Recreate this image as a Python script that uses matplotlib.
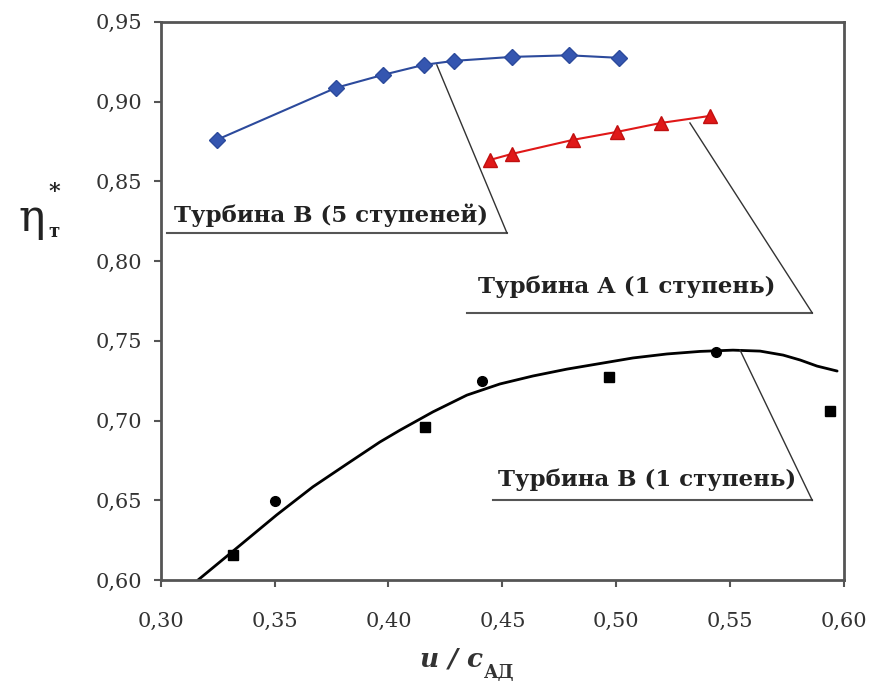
import matplotlib
matplotlib.use("Agg")
import matplotlib.pyplot as plt

# --- data ---
b5_x = [0.3246, 0.3769, 0.3975, 0.4155, 0.4287, 0.4542, 0.4792, 0.5012]
b5_y = [0.876, 0.9086, 0.9167, 0.923, 0.9255, 0.928, 0.929, 0.9274]

a1_x = [0.4445, 0.4542, 0.4810, 0.5003, 0.5196, 0.5411]
a1_y = [0.8634, 0.8672, 0.8760, 0.8810, 0.8866, 0.8910]

b1_sq_x = [0.3316, 0.4160, 0.4968, 0.5938]
b1_sq_y = [0.6156, 0.6960, 0.7273, 0.7060]
b1_ci_x = [0.3500, 0.4410, 0.5438]
b1_ci_y = [0.6495, 0.7248, 0.7430]

curve_x = [0.3163, 0.3303, 0.3510, 0.3668, 0.3817, 0.3962, 0.4050, 0.4195, 0.4344,
           0.4489, 0.4634, 0.4783, 0.4928, 0.5073, 0.5222, 0.5367, 0.5512, 0.5631,
           0.5732, 0.5807, 0.5881, 0.5969]
curve_y = [0.6000, 0.6165, 0.6410, 0.6585, 0.6728, 0.6866, 0.6940, 0.7055, 0.7160,
           0.7230, 0.7280, 0.7323, 0.7358, 0.7393, 0.7418, 0.7434, 0.7442, 0.7436,
           0.7411, 0.7380, 0.7342, 0.7311]

xticks = [0.30, 0.35, 0.40, 0.45, 0.50, 0.55, 0.60]
yticks = [0.60, 0.65, 0.70, 0.75, 0.80, 0.85, 0.90, 0.95]
labels = ["Турбина В (5 ступеней)", "Турбина А (1 ступень)", "Турбина В (1 ступень)"]

serif = 'DejaVu Serif'

fig = plt.figure(figsize=(8.73, 6.81), dpi=100)
ax = fig.add_axes([0.184, 0.148, 0.783, 0.820])
ax.set_xlim(0.30, 0.60)
ax.set_ylim(0.60, 0.95)

ax.plot(b5_x, b5_y, color='#2c4a9c', lw=1.5, marker='D', ms=8,
        markerfacecolor='#3556b0', markeredgecolor='#2c4a9c')
ax.plot(a1_x, a1_y, color='#e01818', lw=1.5, marker='^', ms=10,
        markerfacecolor='#e01818', markeredgecolor='#c01010')
ax.plot(curve_x, curve_y, color='black', lw=2.0, solid_capstyle='round',
        solid_joinstyle='round')
ax.plot(b1_sq_x, b1_sq_y, ls='none', marker='s', ms=7, color='black')
ax.plot(b1_ci_x, b1_ci_y, ls='none', marker='o', ms=7, color='black')

ax.set_xticks(xticks)
ax.set_yticks(yticks)
ax.set_xticklabels([f"{t:.2f}".replace('.', ',') for t in xticks])
ax.set_yticklabels([f"{t:.2f}".replace('.', ',') for t in yticks])
for lab in ax.get_xticklabels() + ax.get_yticklabels():
    lab.set_fontfamily(serif)
    lab.set_fontsize(15)
    lab.set_color('#333333')
ax.tick_params(axis='both', direction='out', length=5, width=1.5, color='#555555')
ax.tick_params(axis='y', pad=8)
ax.tick_params(axis='x', pad=18)
for s in ax.spines.values():
    s.set_linewidth(2.0)
    s.set_color('#555555')

# annotations: text, underline, leader line
ann = [
    (labels[0], 0.306, 0.829, 0.3026, 0.452, 0.8176, 0.4212, 0.923),
    (labels[1], 0.4392, 0.7838, 0.4344, 0.586, 0.7675, 0.5323, 0.8866),
    (labels[2], 0.448, 0.6627, 0.4458, 0.586, 0.6500, 0.5543, 0.7442),
]
for txt, tx, ty, ux0, ux1, uy, lx, ly in ann:
    ax.text(tx, ty, txt, fontfamily=serif, fontweight='bold', fontsize=16.5,
            color='#222222', va='center', ha='left')
    ax.plot([ux0, ux1], [uy, uy], color='#555555', lw=1.5)
    ax.plot([ux1, lx], [uy, ly], color='#333333', lw=1.0)

# y label
fig.text(0.036, 0.680, 'η', fontfamily=serif, fontsize=32, ha='center', va='center',
         color='#222222')
fig.text(0.062, 0.718, '*', fontfamily=serif, fontsize=16, fontweight='bold',
         ha='center', va='center', color='#222222')
fig.text(0.062, 0.660, 'т', fontfamily=serif, fontsize=13, fontweight='bold',
         ha='center', va='center', color='#222222')

# x label
t1 = fig.text(0.553, 0.022, 'u / c', fontfamily=serif, fontsize=19, fontstyle='italic',
              fontweight='bold', ha='right', va='baseline', color='#333333')
ax.annotate('АД', xy=(1.0, 0.0), xycoords=t1, xytext=(1, -5), textcoords='offset points',
            fontfamily=serif, fontsize=13, fontweight='bold', ha='left', va='baseline',
            color='#333333', annotation_clip=False)

fig.savefig('out.png', dpi=100)
